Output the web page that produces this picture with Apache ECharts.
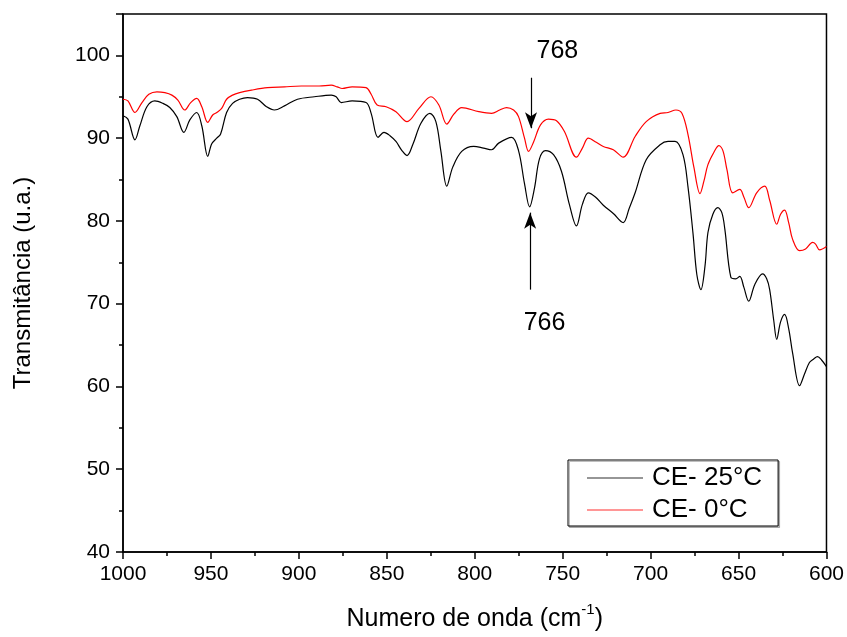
<!DOCTYPE html>
<html>
<head>
<meta charset="utf-8">
<script src="https://cdn.jsdelivr.net/npm/echarts@6/dist/echarts.min.js"></script>
<style>
html,body{margin:0;padding:0;background:#fff;}
#chart{width:847px;height:637px;}
</style>
</head>
<body>
<div id="chart"></div>
<script>
// ---- data ----
const seriesNames = ['CE- 25°C', 'CE- 0°C'];
const xTickValues = [1000, 950, 900, 850, 800, 750, 700, 650, 600];
const yTickValues = [40, 50, 60, 70, 80, 90, 100];

const blackX = [1000, 997.2, 993.2, 990.4, 986.4, 981.9, 977.3, 973.4, 969.4, 965.4, 962.0, 958.1, 955.2, 951.8, 949.6, 946.7, 944.5, 941.1, 937.7, 933.7, 929.2, 923.5, 918.4, 913.9, 908.2, 900.8, 891.2, 881.6, 878.8, 875.9, 869.7, 861.8, 858.9, 855.0, 851.6, 848.2, 844.8, 841.4, 838.5, 835.1, 830.6, 825.5, 822.1, 819.3, 815.9, 812.5, 807.4, 800.6, 795.0, 790.4, 786.4, 779.0, 775.1, 771.7, 768.8, 766.0, 763.2, 759.8, 755.2, 750.7, 746.2, 742.2, 738.8, 735.4, 731.4, 726.9, 721.2, 715.6, 712.2, 708.8, 702.5, 694.6, 690.1, 686.1, 681.6, 678.8, 675.9, 673.7, 671.4, 669.1, 667.4, 664.6, 661.8, 659.5, 657.8, 654.4, 651.6, 649.3, 647.0, 644.2, 640.8, 636.3, 634.0, 632.3, 630.0, 628.3, 626.1, 623.8, 621.5, 619.3, 615.3, 612.5, 609.7, 607.4, 605.1, 602.8, 600];
const blackY = [92.7, 92.3, 89.8, 91.5, 93.8, 94.5, 94.2, 93.7, 92.6, 90.7, 92.2, 93.1, 91.5, 87.8, 89.3, 90.0, 90.5, 93.1, 94.2, 94.7, 94.9, 94.7, 93.8, 93.4, 93.9, 94.7, 95.0, 95.2, 95.0, 94.3, 94.5, 94.3, 93.0, 90.1, 90.7, 90.3, 89.6, 88.5, 87.9, 89.3, 91.8, 93.0, 92.0, 88.5, 84.2, 86.5, 88.4, 89.0, 88.8, 88.6, 89.4, 90.1, 88.5, 84.5, 81.7, 84.0, 87.5, 88.5, 88.0, 86.0, 82.0, 79.4, 82.0, 83.4, 82.9, 81.9, 80.9, 79.8, 81.5, 83.4, 87.4, 89.2, 89.6, 89.6, 88.0, 84.2, 78.5, 73.5, 71.7, 74.5, 78.6, 80.8, 81.6, 81.0, 79.0, 73.2, 73.0, 73.3, 72.0, 70.3, 72.3, 73.6, 73.0, 71.7, 68.0, 65.7, 67.8, 68.7, 67.0, 64.1, 60.1, 61.5, 62.9, 63.3, 63.6, 63.2, 62.4];

const redX = [1000, 997.2, 993.2, 989.2, 985.3, 980.7, 976.2, 972.2, 968.8, 964.9, 961.5, 958.1, 955.2, 951.8, 949.0, 946.7, 943.9, 941.1, 937.7, 933.7, 926.9, 917.8, 908.2, 898.6, 888.4, 881.6, 878.2, 875.4, 869.7, 861.8, 858.9, 855.5, 850.4, 844.8, 838.5, 831.7, 824.9, 820.4, 815.9, 811.9, 807.4, 797.7, 790.4, 785.8, 781.9, 777.9, 775.1, 771.7, 769.4, 766.6, 762.6, 758.1, 753.5, 749.0, 742.2, 738.8, 735.4, 730.9, 726.9, 721.2, 715.6, 708.8, 702.5, 694.6, 690.1, 685.6, 682.2, 678.8, 675.4, 671.9, 669.7, 667.4, 664.0, 661.2, 658.9, 656.6, 653.3, 649.3, 647.0, 644.2, 639.7, 635.1, 632.3, 628.3, 626.1, 623.8, 621.5, 619.3, 615.3, 611.9, 607.9, 606.2, 603.9, 600];
const redY = [94.7, 94.5, 93.1, 94.3, 95.3, 95.6, 95.5, 95.2, 94.6, 93.4, 94.3, 94.8, 93.8, 91.9, 92.8, 93.1, 93.6, 94.7, 95.2, 95.5, 95.8, 96.1, 96.2, 96.3, 96.3, 96.4, 96.2, 96.0, 96.2, 96.1, 95.3, 94.0, 93.8, 93.2, 92.0, 93.6, 95.0, 94.0, 91.7, 92.9, 93.7, 93.2, 93.0, 93.4, 93.7, 93.4, 92.6, 90.0, 88.4, 89.5, 91.6, 92.3, 92.1, 90.8, 87.7, 88.8, 90.0, 89.5, 89.0, 88.6, 87.7, 90.2, 92.0, 93.0, 93.1, 93.4, 93.0, 90.5, 86.5, 83.3, 84.8, 86.8, 88.3, 89.1, 88.5, 86.2, 83.4, 83.8, 82.9, 81.6, 83.4, 84.2, 82.5, 79.6, 80.8, 81.3, 79.8, 77.8, 76.4, 76.6, 77.4, 77.2, 76.5, 76.9];

// annotations: [label, label x, label y, arrow x, arrow start y, arrow tip y]
const annot768 = ['768', 753.0, 100.5, 768, 97.3, 91.2];
const annot766 = ['766', 760.3, 67.6, 768.5, 71.7, 81.0];

// ---- chart ----
const FONT = 'Liberation Sans, Arial, sans-serif';
const chart = echarts.init(document.getElementById('chart'), null, {renderer: 'canvas'});

function pairs(xs, ys) { return xs.map((x, i) => [x, ys[i]]); }

function annotLine(a) {
  return [{coord: [a[3], a[4]], symbol: 'none'}, {coord: [a[3], a[5]], symbol: 'arrow'}];
}
function annotText(a) {
  return {coord: [a[1], a[2]], value: a[0]};
}

const option = {
  backgroundColor: '#fff',
  animation: false,
  grid: {left: 123, right: 18, top: 14, bottom: 85, show: true, borderColor: '#000', borderWidth: 1.5, backgroundColor: 'transparent'},
  legend: {
    orient: 'vertical',
    left: 568, top: 460,
    padding: [5, 16, 3, 19],
    itemGap: 6,
    itemWidth: 56, itemHeight: 1.6,
    icon: 'rect',
    itemStyle: {opacity: 0.55},
    borderColor: '#000', borderWidth: 1,
    backgroundColor: '#fff',
    shadowColor: 'rgba(0,0,0,0.25)', shadowOffsetX: 1.5, shadowOffsetY: 1.5, shadowBlur: 0,
    textStyle: {fontFamily: FONT, fontSize: 26, color: '#000', padding: [0, 0, 0, 4]},
    data: seriesNames
  },
  xAxis: {
    type: 'value', inverse: true, min: 600, max: 1000, interval: 50,
    name: 'Numero de onda (cm{sup|-1})', nameLocation: 'middle', nameGap: 50,
    nameTextStyle: {fontFamily: FONT, fontSize: 25, color: '#000',
      rich: {sup: {fontFamily: FONT, fontSize: 15, verticalAlign: 'top', padding: [0, 0, 20, 0], color: '#000'}}},
    axisLine: {show: true, lineStyle: {color: '#000', width: 1.5}},
    axisTick: {show: true, inside: false, length: 7, lineStyle: {color: '#000', width: 1.5}},
    minorTick: {show: true, splitNumber: 2, length: 4, lineStyle: {color: '#000', width: 1.5}},
    axisLabel: {fontFamily: FONT, fontSize: 21, color: '#000', margin: 12,
      customValues: xTickValues, formatter: v => String(v)},
    splitLine: {show: false}
  },
  yAxis: {
    type: 'value', min: 40, max: 105, interval: 10,
    name: 'Transmitância (u.a.)', nameLocation: 'middle', nameGap: 88,
    nameTextStyle: {fontFamily: FONT, fontSize: 24, color: '#000'},
    axisLine: {show: true, lineStyle: {color: '#000', width: 1.5}},
    axisTick: {show: true, inside: false, length: 7, lineStyle: {color: '#000', width: 1.5}},
    minorTick: {show: true, splitNumber: 2, length: 4, lineStyle: {color: '#000', width: 1.5}},
    axisLabel: {fontFamily: FONT, fontSize: 21, color: '#000', margin: 13,
      customValues: yTickValues, formatter: v => String(v)},
    splitLine: {show: false}
  },
  series: [
    {
      name: seriesNames[0], type: 'line', data: pairs(blackX, blackY),
      showSymbol: false, symbol: 'none', smooth: 0.35,
      lineStyle: {color: '#000', width: 1.2}, itemStyle: {color: '#000'},
      z: 3,
      markLine: {
        silent: true, animation: false,
        symbolSize: [9, 16],
        lineStyle: {color: '#000', width: 1.2, type: 'solid'},
        label: {show: false},
        data: [annotLine(annot768), annotLine(annot766)]
      },
      markPoint: {
        silent: true, animation: false,
        symbol: 'circle', symbolSize: 0,
        label: {show: true, position: 'inside', fontFamily: FONT, fontSize: 25, color: '#000',
          formatter: p => p.value},
        data: [annotText(annot768), annotText(annot766)]
      }
    },
    {
      name: seriesNames[1], type: 'line', data: pairs(redX, redY),
      showSymbol: false, symbol: 'none', smooth: 0.35,
      lineStyle: {color: '#ff0000', width: 1.2}, itemStyle: {color: '#ff0000'},
      z: 2
    }
  ]
};
chart.setOption(option);
</script>
</body>
</html>
